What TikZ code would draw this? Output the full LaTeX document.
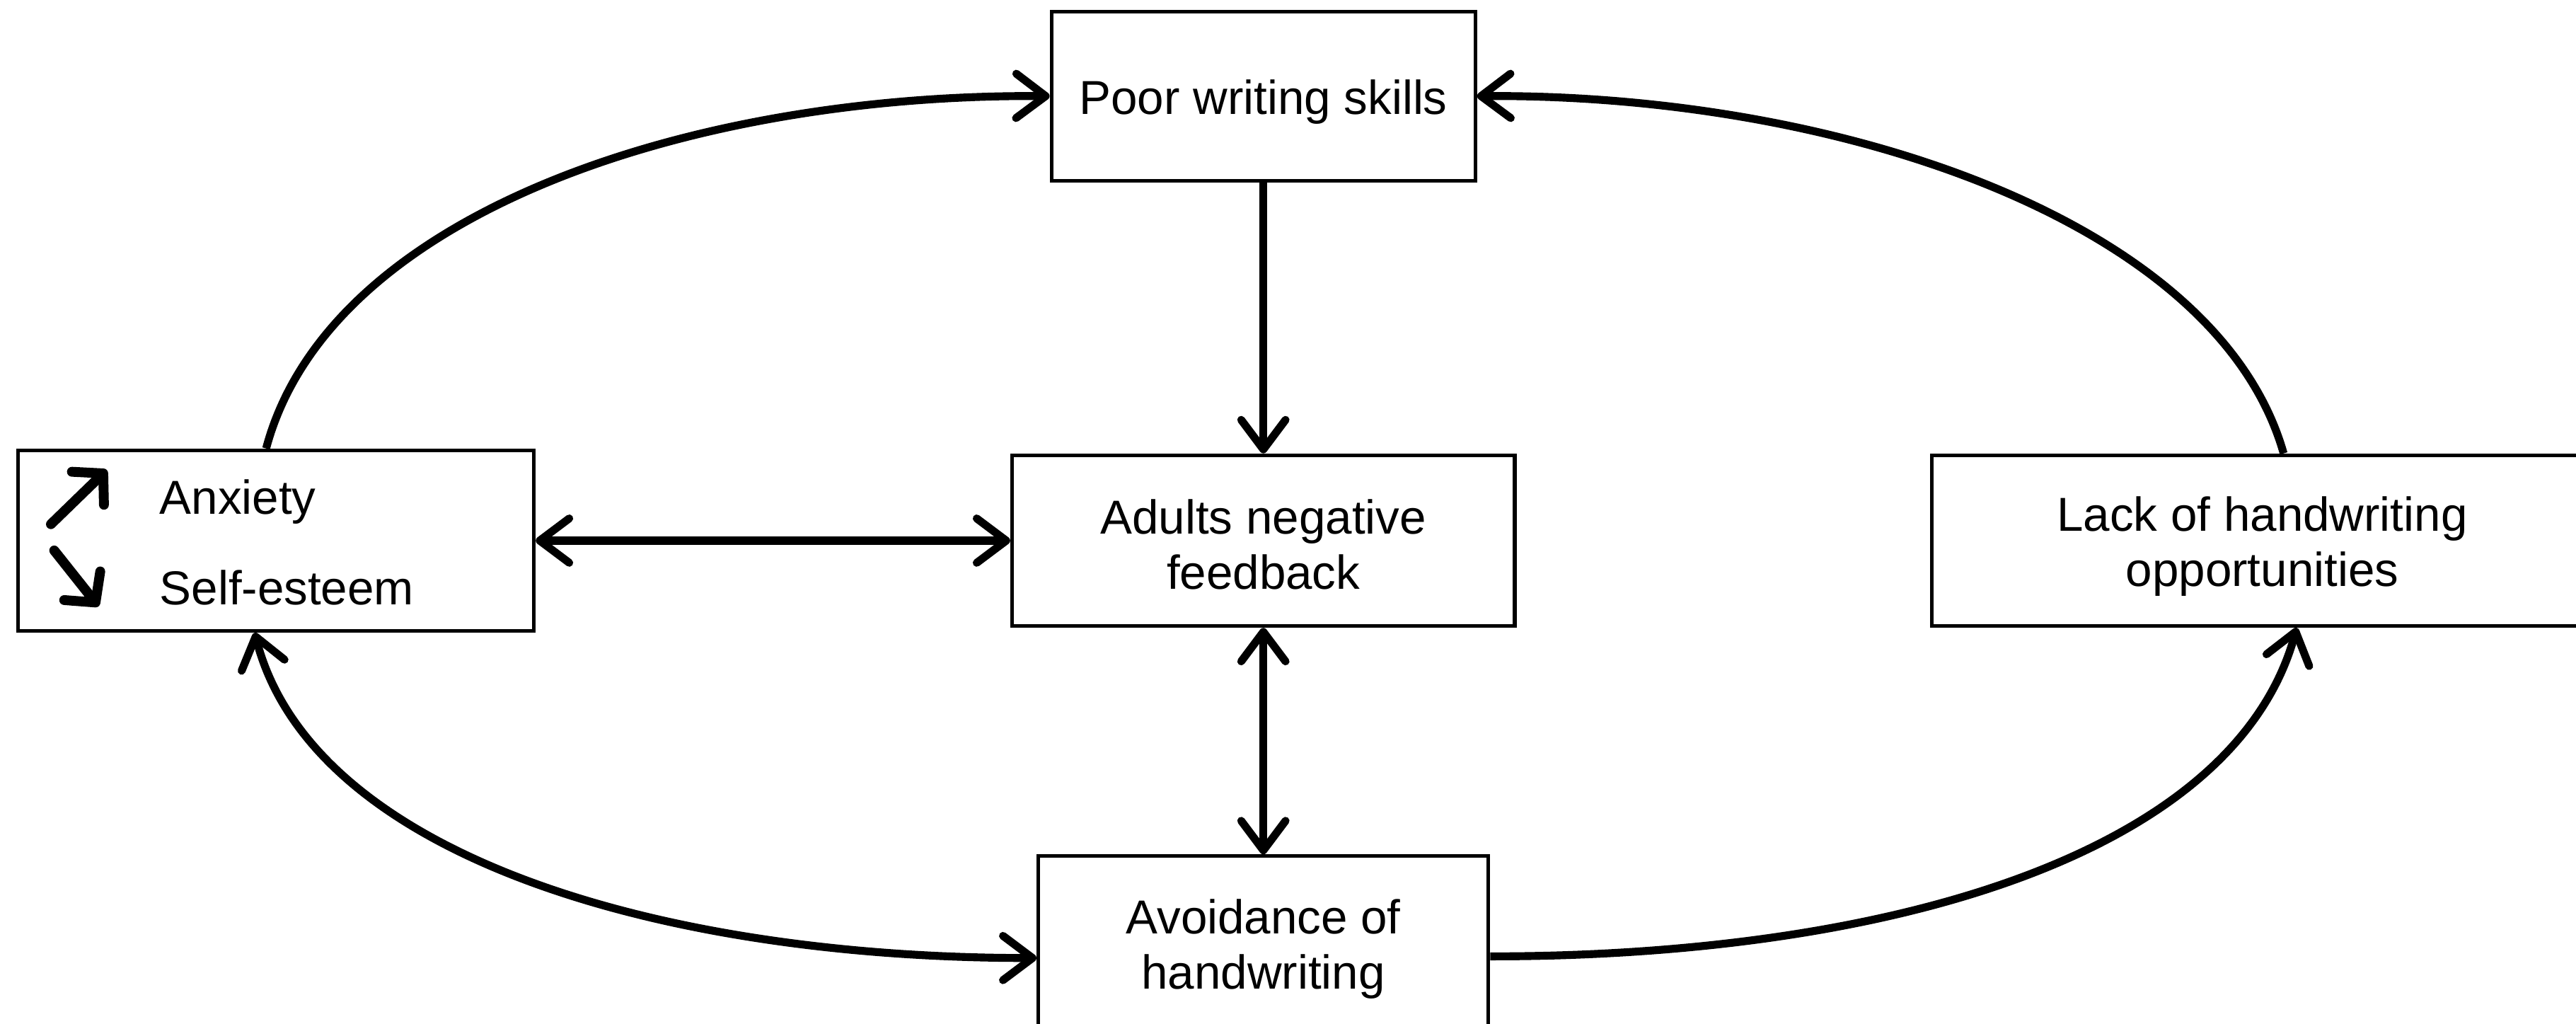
\documentclass[tikz,border=0pt]{standalone}
\usepackage{fontspec}
\setmainfont{Liberation Sans}
\usetikzlibrary{arrows.meta}
\begin{document}
\begin{tikzpicture}[x=1pt,y=1pt,
  box/.style={draw,line width=2.2pt,inner sep=0pt},
  txt/.style={inner sep=0pt,align=center,font=\fontsize{29}{33.5}\selectfont},
  conn/.style={line width=4.8pt,>={Straight Barb[length=18pt,width=27pt,round]}},
  mini/.style={line width=6pt,line cap=round,-{Straight Barb[length=13pt,width=28pt,round]}}
]
\useasboundingbox (0,0) rectangle (1568,623);
\clip (0,0) rectangle (1568,623);
\fill[white] (0,0) rectangle (1568,623);
% boxes
\node[box,minimum width=258pt,minimum height=103pt] (poor) at (769,564.5) {};
\node[box,minimum width=306pt,minimum height=104pt] (adults) at (769,294) {};
\node[box,minimum width=314pt,minimum height=110pt] (anx) at (168,294) {};
\node[box,minimum width=402pt,minimum height=104pt] (lack) at (1377,294) {};
\node[box,minimum width=274pt,minimum height=108pt] (avoid) at (769,48) {};
% texts
\node[txt,yshift=-3.5pt] (poort) at (poor) {Poor writing skills};
\node[txt,yshift=-2.5pt] (adultst) at (adults) {Adults negative\\feedback};
\node[txt,yshift=-3.5pt] (lackt) at (lack) {Lack of handwriting\\opportunities};
\node[txt,yshift=-2.5pt] (avoidt) at (avoid) {Avoidance of\\handwriting};
\node[txt,anchor=base west] (anxt) at (97,310) {Anxiety};
\node[txt,anchor=base west] (selft) at (97,255) {Self-esteem};
% small arrows in the left box
\coordinate (u1) at (31,304);
\coordinate (u2) at (65,337);
\coordinate (d1) at (33,288);
\coordinate (d2) at (60,254);
\draw[mini] (u1) -- (u2);
\draw[mini] (d1) -- (d2);
% connectors
\draw[conn,->] (poor.south) -- (adults.north);
\draw[conn,<->] (anx.east) -- (adults.west);
\draw[conn,<->] (adults.south) -- (avoid.north);
\draw[conn,->] ([xshift=-6pt]anx.north) .. controls (200,493) and (420,566) .. (poor.west);
\draw[conn,->] ([xshift=13pt]lack.north) .. controls (1350,488) and (1120,566) .. (poor.east);
\draw[conn,<->] ([xshift=-13pt]anx.south) .. controls (190,103) and (400,40) .. ([yshift=-8pt]avoid.west);
\draw[conn,->] ([yshift=-7pt]avoid.east) .. controls (1150,41) and (1360,103) .. ([xshift=21pt]lack.south);
\end{tikzpicture}
\end{document}
